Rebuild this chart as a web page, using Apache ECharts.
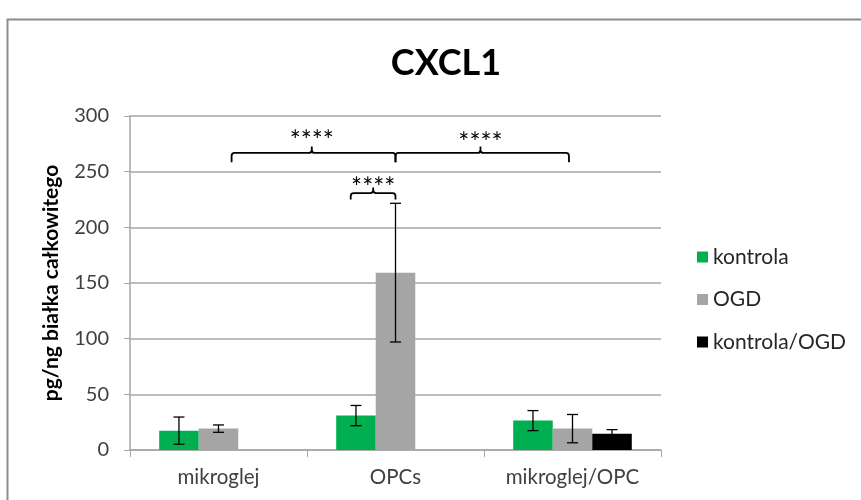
<!DOCTYPE html>
<html>
<head>
<meta charset="utf-8">
<script src="https://cdn.jsdelivr.net/npm/echarts@6/dist/echarts.min.js"></script>
<style>
  html, body { margin: 0; padding: 0; background: #ffffff; }
  #chart { width: 861px; height: 500px; }
</style>
</head>
<body>
<div id="chart"></div>
<script>
// CXCL1 concentration per cell culture, mean ± SD
const categories = ['mikroglej', 'OPCs', 'mikroglej/OPC'];
const seriesNames = ['kontrola', 'OGD', 'kontrola/OGD'];
const kontrola = [17.4, 30.9, 26.4];
const ogd = [19.2, 159.3, 19.2];
const kontrolaOgd = [null, null, 14.7];
const kontrolaErr = [12.2, 9.1, 9.0];
const ogdErr = [3.3, 62.3, 12.7];
const kontrolaOgdErr = [null, null, 3.6];
const yTicks = [0, 50, 100, 150, 200, 250, 300];

// Significance comparisons: span in category units, bracket level, label
const comparisons = [
  { from: 0.074, to: 1.0, mid: 0.527, level: 266.8, leg: 258.4, peak: 272.5, textAt: 277.0, label: '****' },
  { from: 1.0, to: 1.98, mid: 1.48, level: 266.8, leg: 258.4, peak: 272.5, textAt: 275.2, label: '****' },
  { from: 0.747, to: 1.0, mid: 0.874, level: 230.8, leg: 224.9, peak: 235.7, textAt: 235.0, label: '****' }
];

const FONT = 'Lato';
const colors = ['#00b050', '#a5a5a5', '#000000'];
const CATEGORY_GAP = 0.33;

const means = [kontrola, ogd, kontrolaOgd];
const errs = [kontrolaErr, ogdErr, kontrolaOgdErr];

// error bar points: [category, mean, sd, series index]
const errData = [];
means.forEach((arr, s) => {
  arr.forEach((v, c) => {
    if (v != null && errs[s][c] != null) errData.push([c, v, errs[s][c], s]);
  });
});

function renderError(params, api) {
  const c = api.value(0), v = api.value(1), e = api.value(2), s = api.value(3);
  const band = api.size([1, 0])[0];
  const barW = band * (1 - CATEGORY_GAP) / 3;
  const x = api.coord([c, v])[0] + (s - 1) * barW;
  const yTop = api.coord([c, v + e])[1];
  const yBot = api.coord([c, Math.max(v - e, 0)])[1];
  const cap = 5.5;
  const style = { stroke: '#000', lineWidth: 1.3 };
  return {
    type: 'group',
    children: [
      { type: 'line', shape: { x1: x, y1: yTop, x2: x, y2: yBot }, style },
      { type: 'line', shape: { x1: x - cap, y1: yTop, x2: x + cap, y2: yTop }, style },
      { type: 'line', shape: { x1: x - cap, y1: yBot, x2: x + cap, y2: yBot }, style }
    ]
  };
}

function renderBracket(params, api) {
  const b = comparisons[params.dataIndex];
  const band = api.size([1, 0])[0];
  const x0 = api.coord([0, 0])[0];
  const px = f => x0 + f * band;
  const py = v => api.coord([0, v])[1];
  const xa = px(b.from), xb = px(b.to), xm = px(b.mid);
  const yl = py(b.level), ye = py(b.leg), yp = py(b.peak), yt = py(b.textAt);
  const r = 3;
  const path = 'M' + xa + ' ' + ye +
    ' L' + xa + ' ' + (yl + r) +
    ' Q' + xa + ' ' + yl + ' ' + (xa + r) + ' ' + yl +
    ' L' + (xm - r) + ' ' + yl +
    ' Q' + xm + ' ' + yl + ' ' + xm + ' ' + (yl - r) +
    ' L' + xm + ' ' + yp +
    ' M' + xm + ' ' + (yl - r) +
    ' Q' + xm + ' ' + yl + ' ' + (xm + r) + ' ' + yl +
    ' L' + (xb - r) + ' ' + yl +
    ' Q' + xb + ' ' + yl + ' ' + xb + ' ' + (yl + r) +
    ' L' + xb + ' ' + ye;
  return {
    type: 'group',
    children: [
      { type: 'path', shape: { pathData: path }, style: { stroke: '#000', lineWidth: 1.8, fill: null } },
      {
        type: 'text',
        x: xm, y: yt,
        style: {
          text: b.label, fill: '#000', font: '26px ' + FONT,
          align: 'center', verticalAlign: 'middle'
        }
      }
    ]
  };
}

const chart = echarts.init(document.getElementById('chart'), null, { renderer: 'canvas' });

const barSeries = seriesNames.map((name, i) => ({
  name,
  type: 'bar',
  data: means[i],
  barGap: '0%',
  barCategoryGap: (CATEGORY_GAP * 100) + '%',
  itemStyle: { color: colors[i] },
  emphasis: { disabled: true },
  z: 2
}));

chart.setOption({
  animation: false,
  backgroundColor: '#ffffff',
  textStyle: { fontFamily: FONT },
  title: {
    text: 'CXCL1',
    left: 441,
    top: 40,
    textAlign: 'center',
    textStyle: { fontFamily: FONT, fontWeight: 'bold', fontSize: 36, color: '#000' }
  },
  graphic: [{
    type: 'rect',
    left: 5, top: 17,
    shape: { width: 900, height: 520 },
    style: { fill: null, stroke: '#8c8c8c', lineWidth: 2 },
    silent: true
  }],
  legend: {
    data: seriesNames,
    orient: 'vertical',
    left: 692,
    top: 241,
    icon: 'rect',
    itemWidth: 11,
    itemHeight: 11,
    itemGap: 20.5,
    textStyle: { fontFamily: FONT, fontSize: 21, color: '#262626', lineHeight: 22 }
  },
  grid: { left: 130, right: 200, top: 116, bottom: 50, containLabel: false },
  xAxis: {
    type: 'category',
    data: categories,
    axisLine: { lineStyle: { color: '#a6a6a6', width: 1.5 } },
    axisTick: { show: true, length: 7, lineStyle: { color: '#a6a6a6' } },
    axisLabel: { fontFamily: FONT, fontSize: 20.5, color: '#404040', margin: 17 }
  },
  yAxis: {
    type: 'value',
    min: yTicks[0],
    max: yTicks[yTicks.length - 1],
    interval: yTicks[1] - yTicks[0],
    name: 'pg/ng białka całkowitego',
    nameLocation: 'middle',
    nameGap: 68,
    nameMoveOverlap: false,
    nameTextStyle: { fontFamily: FONT, fontWeight: 'bold', fontSize: 21, color: '#000' },
    axisLine: { show: true, lineStyle: { color: '#a6a6a6', width: 1.5 } },
    axisTick: { show: true, length: 6, lineStyle: { color: '#a6a6a6' } },
    axisLabel: { fontFamily: FONT, fontSize: 20, color: '#404040', margin: 21 },
    splitLine: { lineStyle: { color: '#a6a6a6', width: 1.5 } }
  },
  series: barSeries.concat([
    {
      type: 'custom',
      name: 'sd',
      renderItem: renderError,
      data: errData,
      encode: { x: 0, y: 1 },
      z: 5,
      silent: true
    },
    {
      type: 'custom',
      name: 'significance',
      renderItem: renderBracket,
      data: comparisons.map(b => [0, b.level]),
      encode: { x: 0, y: 1 },
      clip: false,
      z: 6,
      silent: true
    }
  ])
});
</script>
</body>
</html>
